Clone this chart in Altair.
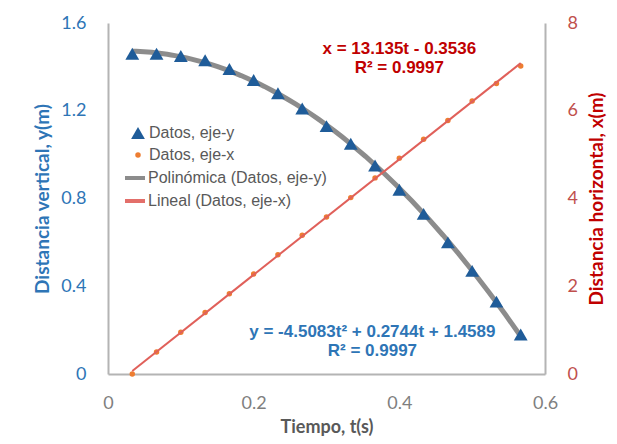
import altair as alt
import pandas as pd

# time (s), 30 fps
t = [1/30, 2/30, 3/30, 4/30, 5/30, 6/30, 7/30, 8/30, 9/30, 10/30,
     11/30, 12/30, 13/30, 14/30, 15/30, 16/30, 17/30]
# vertical distance y (m)
y_vals = [1.46, 1.46, 1.45, 1.43, 1.39, 1.34, 1.28, 1.21, 1.13, 1.05,
          0.95, 0.84, 0.73, 0.60, 0.47, 0.33, 0.18]
# horizontal distance x (m)
x_vals = [0.00, 0.50, 0.95, 1.40, 1.83, 2.28, 2.72, 3.16, 3.58, 4.02,
          4.47, 4.92, 5.35, 5.78, 6.22, 6.62, 7.02]

series_pts = ["Datos, eje-y", "Datos, eje-x"]
series_fit = ["Polinómica (Datos, eje-y)", "Lineal (Datos, eje-x)"]

eq_y = "y = -4.5083t² + 0.2744t + 1.4589\nR² = 0.9997"
eq_x = "x = 13.135t - 0.3536\nR² = 0.9997"

df = pd.DataFrame({"t": t, "y": y_vals, "x": x_vals})
ann_y = pd.DataFrame({"t": [0.363], "v": [0.192], "txt": [eq_y]})
ann_x = pd.DataFrame({"t": [0.40], "v": [7.40], "txt": [eq_x]})

AX_FONT = "Lato"
LEG_FONT = "Liberation Sans"
BLUE_T = "#2E75B6"
RED_T = "#C00000"
GREY = "#B4B4B4"

x_enc = alt.X("t:Q", scale=alt.Scale(domain=[0, 0.6], nice=False),
              axis=alt.Axis(values=[0, 0.2, 0.4, 0.6], format="~g", title="Tiempo, t(s)",
                            grid=False, ticks=False, labelPadding=20, labelFontSize=18,
                            labelFlush=False,
                            labelColor="#7F7F7F", titleColor="#595959", titleFontSize=18,
                            titleFontWeight="bold", titlePadding=6, domainColor=GREY,
                            domainWidth=2, labelFont=AX_FONT, titleFont=AX_FONT))

y_axis = alt.Axis(values=[0, 0.4, 0.8, 1.2, 1.6], format="~g", orient="left",
                  title="Distancia vertical, y(m)", grid=False, ticks=False,
                  labelPadding=22, labelFontSize=18, labelColor=BLUE_T, titleColor=BLUE_T,
                  labelFlush=False,
                  titleFontSize=19, titleFontWeight="bold", titlePadding=8,
                  domainColor=GREY, domainWidth=2, labelFont=AX_FONT, titleFont=AX_FONT)
y_scale = alt.Scale(domain=[0, 1.6], nice=False)

x2_axis = alt.Axis(values=[0, 2, 4, 6, 8], format="~g", orient="right",
                   title="Distancia horizontal, x(m)", grid=False, ticks=False,
                   labelPadding=22, labelFontSize=18, labelColor="#C0504D", titleColor=RED_T,
                   labelFlush=False,
                   titleFontSize=19, titleFontWeight="bold", titlePadding=10, titleAngle=270,
                   titleBaseline="top",
                   domainColor=GREY, domainWidth=2, labelFont=AX_FONT, titleFont=AX_FONT)
x2_scale = alt.Scale(domain=[0, 8], nice=False)

pts_legend = alt.Legend(orient="none", legendX=22, legendY=102, title=None,
                        labelFont=LEG_FONT, labelFontSize=16, labelColor="#595959",
                        rowPadding=6, labelOffset=3, labelLimit=400)
color_scale = alt.Scale(domain=series_pts, range=["#1F5C99", "#ED7D31"])
shape_scale = alt.Scale(domain=series_pts, range=["triangle-up", "circle"])
size_scale = alt.Scale(domain=series_pts, range=[190, 30])

fit_legend = alt.Legend(orient="none", legendX=15, legendY=143, title=None,
                        labelFont=LEG_FONT, labelFontSize=16, labelColor="#595959",
                        symbolType="stroke", symbolStrokeWidth=4, symbolSize=400,
                        rowPadding=3, labelOffset=1, labelLimit=400)
stroke_scale = alt.Scale(domain=series_fit, range=["#808080", "#E0605A"])

base = alt.Chart(df)

poly = base.transform_regression("t", "y", method="poly", order=2).transform_calculate(
    ajuste="'" + series_fit[0] + "'"
).mark_line(strokeWidth=5, opacity=0.9).encode(
    x=x_enc,
    y=alt.Y("y:Q", scale=y_scale, axis=y_axis),
    stroke=alt.Stroke("ajuste:N", scale=stroke_scale, legend=fit_legend),
)

tri = base.transform_calculate(serie="'" + series_pts[0] + "'").mark_point(
    filled=True, opacity=1
).encode(
    x=x_enc,
    y=alt.Y("y:Q", scale=y_scale, axis=y_axis),
    color=alt.Color("serie:N", scale=color_scale, legend=pts_legend),
    shape=alt.Shape("serie:N", scale=shape_scale, legend=pts_legend),
    size=alt.Size("serie:N", scale=size_scale, legend=pts_legend),
)

txt_y = alt.Chart(ann_y).mark_text(
    lineBreak="\n", font=LEG_FONT, fontSize=17, fontWeight="bold", color=BLUE_T,
    align="center", baseline="middle", lineHeight=19
).encode(x=x_enc, y=alt.Y("v:Q", scale=y_scale, axis=y_axis), text="txt:N")

dots = base.transform_calculate(serie="'" + series_pts[1] + "'").mark_point(
    filled=True, opacity=1
).encode(
    x=x_enc,
    y=alt.Y("x:Q", scale=x2_scale, axis=x2_axis),
    color=alt.Color("serie:N", scale=color_scale, legend=pts_legend),
    shape=alt.Shape("serie:N", scale=shape_scale, legend=pts_legend),
    size=alt.Size("serie:N", scale=size_scale, legend=pts_legend),
)

lin = base.transform_regression("t", "x", method="linear").transform_calculate(
    ajuste="'" + series_fit[1] + "'"
).mark_line(strokeWidth=2).encode(
    x=x_enc,
    y=alt.Y("x:Q", scale=x2_scale, axis=x2_axis),
    stroke=alt.Stroke("ajuste:N", scale=stroke_scale, legend=fit_legend),
)

txt_x = alt.Chart(ann_x).mark_text(
    lineBreak="\n", font=LEG_FONT, fontSize=17, fontWeight="bold", color=RED_T,
    align="center", baseline="middle", lineHeight=19
).encode(x=x_enc, y=alt.Y("v:Q", scale=x2_scale, axis=x2_axis), text="txt:N")

left = alt.layer(poly, tri, txt_y)
right = alt.layer(dots, lin, txt_x)

chart = alt.layer(left, right).resolve_scale(y="independent").properties(
    width=601, height=428,
    autosize=alt.AutoSizeParams(type="fit", contains="padding"),
    padding={"left": 25, "top": 6, "right": 2, "bottom": 0},
).configure_view(stroke=None)

chart.save("out.html", embed_options={"renderer": "svg", "actions": False})
